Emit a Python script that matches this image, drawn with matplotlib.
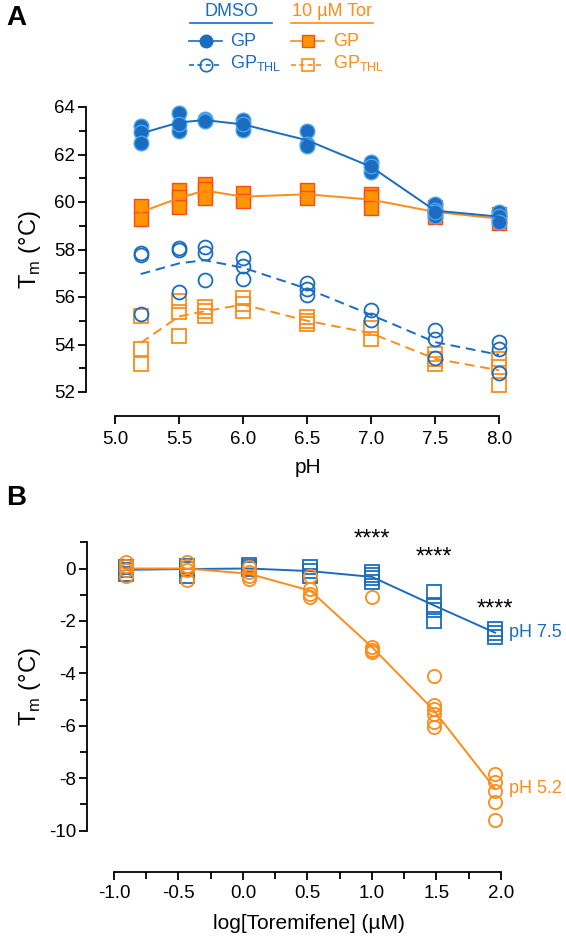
import numpy as np
import matplotlib
matplotlib.use("Agg")
import matplotlib.pyplot as plt

plt.rcParams['font.family'] = ['Liberation Sans', 'DejaVu Sans']
plt.rcParams['axes.unicode_minus'] = False

BLUE = '#1a6cc0'
BLUE_EDGE = '#48a6ee'
ORANGE = '#ff8c1a'
ORANGE_FILL = '#ff9500'
RED_EDGE = '#ff4a1a'

# ---------------- panel A data ----------------
ph = [5.2, 5.5, 5.7, 6.0, 6.5, 7.0, 7.5, 8.0]

dmso_gp = [
    [63.2, 62.95, 62.5],
    [63.75, 63.0, 63.3],
    [63.5, 63.45, 63.4],
    [63.45, 63.05, 63.3],
    [63.0, 62.45, 62.35],
    [61.7, 61.25, 61.5],
    [59.9, 59.65, 59.4, 59.6],
    [59.6, 59.4, 59.15],
]
tor_gp = [
    [59.85, 59.3],
    [60.5, 60.2, 59.8],
    [60.75, 60.55, 60.15],
    [60.4, 60.05],
    [60.5, 60.15],
    [60.35, 60.2, 59.75],
    [59.8, 59.6, 59.35],
    [59.5, 59.3, 59.1],
]
dmso_thl = [
    [57.85, 57.75, 55.3],
    [58.05, 58.0, 56.2],
    [58.1, 57.85, 56.7],
    [57.65, 57.3, 56.75],
    [56.6, 56.35, 56.1],
    [55.45, 55.05],
    [54.6, 54.25, 53.45],
    [54.1, 53.8, 52.8],
]
tor_thl = [
    [55.2, 53.8, 53.2],
    [55.85, 55.35, 54.35],
    [55.6, 55.4, 55.2],
    [55.95, 55.7, 55.4],
    [55.15, 55.0, 54.85],
    [54.7, 54.25],
    [53.6, 53.4, 53.2],
    [53.4, 53.05, 52.3],
]

# ---------------- panel B data ----------------
log_tor = [-0.908, -0.431, 0.046, 0.523, 1.0, 1.477, 1.954]
ph75 = [
    [0.05, -0.05, -0.2],
    [0.1, 0.0, -0.3],
    [0.15, 0.05, 0.0],
    [0.05, -0.1, -0.3],
    [-0.15, -0.25, -0.35, -0.5],
    [-0.9, -1.4, -1.6, -2.0],
    [-2.3, -2.45, -2.6],
]
ph52 = [
    [0.25, 0.1, -0.05, -0.3],
    [0.25, 0.1, -0.05, -0.45],
    [0.07, -0.12, -0.3, -0.4],
    [-0.3, -0.8, -0.98, -1.08],
    [-1.08, -2.98, -3.1, -3.2],
    [-4.1, -5.2, -5.35, -5.55, -5.85, -6.05],
    [-7.83, -8.15, -8.5, -8.9, -9.6],
]
ph75_line = [-0.05, -0.02, 0.0, -0.1, -0.32, -1.4, -2.45]
ph52_line = [0.0, 0.0, -0.2, -0.85, -3.0, -5.4, -8.4]
star_x = [1.0, 1.477, 1.954]
star_y = [1.1, 0.4, -1.55]


def scatter_reps(ax, xs, reps, **kw):
    for x, r in zip(xs, reps):
        ax.plot([x] * len(r), r, linestyle='none', clip_on=False, **kw)


def style_axis(ax):
    for s in ['top', 'right']:
        ax.spines[s].set_visible(False)
    for s in ['left', 'bottom']:
        ax.spines[s].set_linewidth(1.3)
    ax.tick_params(which='major', length=6, width=1.3, labelsize=13.5, pad=2)
    ax.tick_params(which='minor', length=5, width=1.3)


fig = plt.figure(figsize=(5.66, 9.40), dpi=100)

# ---------------- panel A ----------------
axA = fig.add_axes([86 / 566, 1 - 392 / 940, 444 / 566, 285 / 940])
style_axis(axA)
axA.set_xlim(4.773, 8.242)
axA.set_ylim(52, 64)
axA.spines['left'].set_bounds(52, 64)
axA.spines['bottom'].set_bounds(5, 8)
axA.spines['bottom'].set_position(('outward', 17))
axA.set_xticks(np.arange(5.0, 8.01, 0.5))
axA.set_xticklabels([f'{v:.1f}' for v in np.arange(5.0, 8.01, 0.5)])
axA.xaxis.set_tick_params(pad=5)
axA.set_yticks(np.arange(52, 65, 2))
axA.set_yticks(np.arange(53, 64, 2), minor=True)
axA.set_xlabel('pH', fontsize=15, labelpad=7)
axA.set_ylabel('T$_\\mathregular{m}$ (°C)', fontsize=17, labelpad=8)

axA.plot(ph, [np.mean(r) for r in tor_thl], '--', color=ORANGE, lw=1.4, dashes=(5, 3))
axA.plot(ph, [np.mean(r) for r in dmso_thl], '--', color=BLUE, lw=1.4, dashes=(5, 3))
scatter_reps(axA, ph, tor_thl, marker='s', ms=10, mfc='none', mec=ORANGE, mew=1.3)
scatter_reps(axA, ph, dmso_thl, marker='o', ms=10, mfc='none', mec=BLUE, mew=1.3)
scatter_reps(axA, ph, tor_gp, marker='s', ms=10, mfc=ORANGE_FILL, mec=RED_EDGE, mew=1.0)
axA.plot(ph, [np.mean(r) for r in tor_gp], '-', color=ORANGE, lw=1.4)
scatter_reps(axA, ph, dmso_gp, marker='o', ms=10.5, mfc=BLUE, mec=BLUE_EDGE, mew=1.0)
axA.plot(ph, [np.mean(r) for r in dmso_gp], '-', color=BLUE, lw=1.4)

# ---------------- panel B ----------------
axB = fig.add_axes([87 / 566, 1 - 830.5 / 940, 443 / 566, 288.2 / 940])
style_axis(axB)
axB.set_xlim(-1.209, 2.225)
axB.set_ylim(-10, 1)
axB.spines['left'].set_bounds(-10, 1)
axB.spines['bottom'].set_bounds(-1, 2)
axB.spines['bottom'].set_position(('outward', 30))
axB.set_xticks(np.arange(-1.0, 2.01, 0.5))
axB.set_xticklabels([f'{v:.1f}' for v in np.arange(-1.0, 2.01, 0.5)])
axB.xaxis.set_tick_params(pad=3)
axB.set_xticks(np.arange(-0.75, 2.0, 0.5), minor=True)
axB.set_yticks(np.arange(-10, 1, 2))
axB.set_yticks(np.arange(-9, 2, 2), minor=True)
axB.set_xlabel('log[Toremifene] (\u00b5M)', fontsize=15, labelpad=9)
axB.set_ylabel('T$_\\mathregular{m}$ (°C)', fontsize=17, labelpad=4)

scatter_reps(axB, log_tor, ph75, marker='s', ms=9.5, mfc='none', mec=BLUE, mew=1.3)
axB.plot(log_tor, ph75_line, '-', color=BLUE, lw=1.4)
scatter_reps(axB, log_tor, ph52, marker='o', ms=9.5, mfc='none', mec=ORANGE, mew=1.3)
axB.plot(log_tor, ph52_line, '-', color=ORANGE, lw=1.4)

for x, y in zip(star_x, star_y):
    axB.text(x, y, '****', ha='center', va='center', fontsize=17)
axB.text(log_tor[-1] + 0.11, ph75_line[-1], 'pH 7.5', color=BLUE, fontsize=13,
         ha='left', va='center')
axB.text(log_tor[-1] + 0.11, ph52_line[-1], 'pH 5.2', color=ORANGE, fontsize=13,
         ha='left', va='center')

# ---------------- panel letters and legend ----------------
ov = fig.add_axes([0, 0, 1, 1], zorder=-1)
ov.set_xlim(0, 566)
ov.set_ylim(940, 0)
ov.axis('off')

ov.text(6, 18, 'A', fontsize=20, fontweight='bold', va='center', ha='left')
ov.text(6, 498, 'B', fontsize=20, fontweight='bold', va='center', ha='left')

ov.text(231, 11, 'DMSO', color=BLUE, fontsize=13, ha='center', va='center')
ov.plot([190, 272], [23, 23], color=BLUE, lw=1.2)
ov.text(332, 11, '10 \u00b5M Tor', color=ORANGE, fontsize=13, ha='center', va='center')
ov.plot([291, 373], [23, 23], color=ORANGE, lw=1.2)

ov.plot([189, 222], [41, 41], '-', color=BLUE, lw=1.2)
ov.plot(206, 41, 'o', ms=9, mfc=BLUE, mec=BLUE)
ov.text(230, 41, 'GP', color=BLUE, fontsize=13, va='center')
ov.plot([189, 222], [65, 65], '--', color=BLUE, lw=1.2, dashes=(3, 2))
ov.plot(206, 65, 'o', ms=9, mfc='none', mec=BLUE, mew=1.2)
ov.text(230, 63, 'GP$_\\mathregular{THL}$', color=BLUE, fontsize=13, va='center')

ov.plot([291, 324], [41, 41], '-', color=ORANGE, lw=1.2)
ov.plot(308, 41, 's', ms=9, mfc=ORANGE_FILL, mec=RED_EDGE)
ov.text(333, 41, 'GP', color=ORANGE, fontsize=13, va='center')
ov.plot([291, 324], [65, 65], '--', color=ORANGE, lw=1.2, dashes=(3, 2))
ov.plot(308, 65, 's', ms=9, mfc='none', mec=ORANGE, mew=1.2)
ov.text(333, 63, 'GP$_\\mathregular{THL}$', color=ORANGE, fontsize=13, va='center')

fig.savefig('out.png', dpi=100)
